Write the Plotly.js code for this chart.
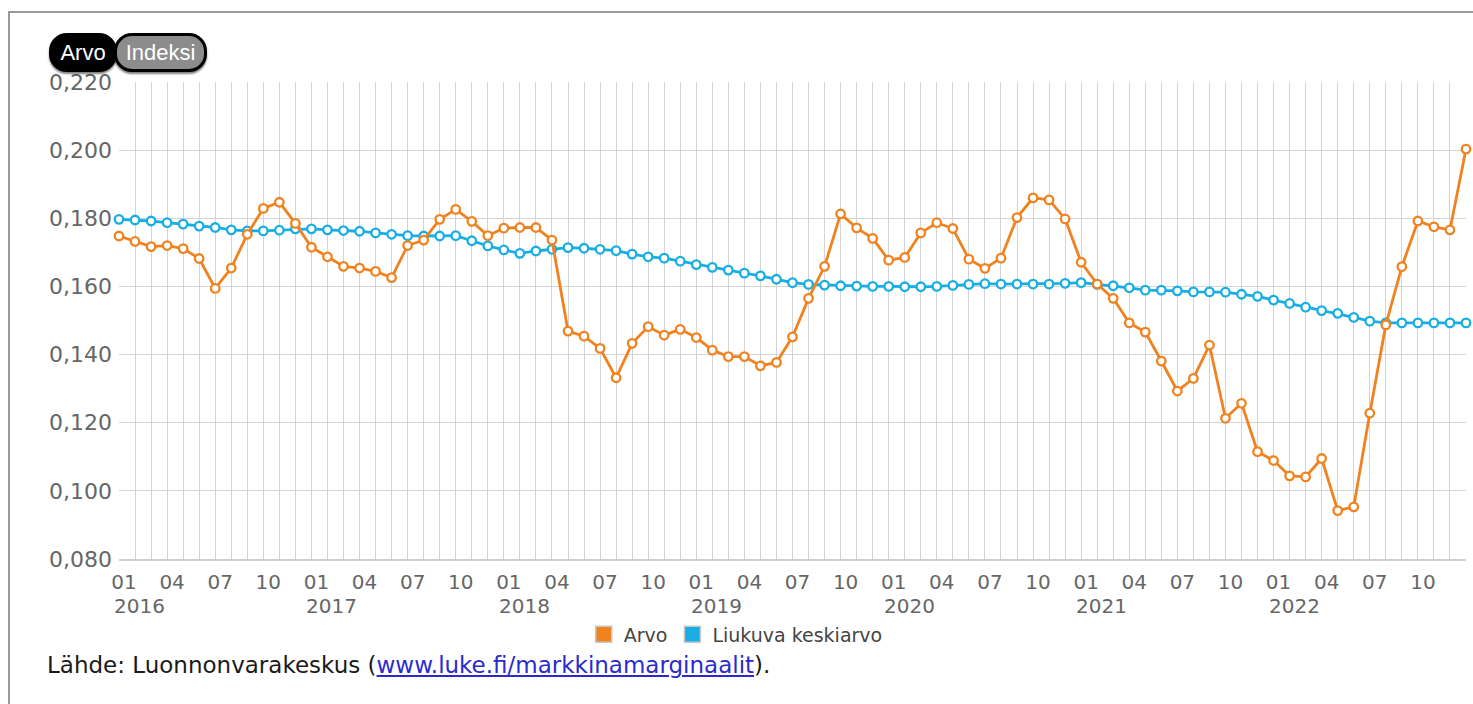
<!DOCTYPE html>
<html>
<head>
<meta charset="utf-8">
<script src="https://cdn.plot.ly/plotly-3.0.1.min.js"></script>
<style>
  html, body { margin:0; padding:0; background:#fff; width:1473px; height:704px; overflow:hidden; }
  #frame { position:absolute; left:8px; top:11px; width:1500px; height:760px; border-left:2px solid #9a9a9a; border-top:2px solid #9a9a9a; }
  #chart { position:absolute; left:0; top:0; width:1473px; height:704px; }
  .pill { position:absolute; top:33px; height:33px; border-radius:18px; border:3px solid #000; font-family:"Liberation Sans", Arial, sans-serif; font-size:22px; color:#fff; line-height:33px; text-align:center; box-shadow:0 2px 2px rgba(0,0,0,0.5); }
  #b1 { left:49px; width:62px; background:#000; }
  #b2 { left:114px; width:87px; background:#8c8c8c; }
  #source { position:absolute; left:47px; top:652px; font-family:"DejaVu Sans", Verdana, sans-serif; font-size:23px; color:#1a1a1a; }
  #source a { color:#2a2ad0; text-decoration:underline; }
</style>
</head>
<body>
<div id="frame"></div>
<div id="chart"></div>
<div class="pill" id="b1">Arvo</div>
<div class="pill" id="b2">Indeksi</div>
<div id="source">Lähde: Luonnonvarakeskus (<a href="http://www.luke.fi/markkinamarginaalit">www.luke.fi/markkinamarginaalit</a>).</div>
<script>
// ---- data ----
const years = [2016, 2017, 2018, 2019, 2020, 2021, 2022, 2023];
const arvo = [
  0.1748,0.1732,0.1717,0.1720,0.1711,0.1682,0.1594,0.1654,0.1753,0.1829,0.1847,0.1785,
  0.1715,0.1687,0.1659,0.1654,0.1644,0.1626,0.1720,0.1736,0.1797,0.1826,0.1791,0.1749,
  0.1771,0.1773,0.1773,0.1736,0.1469,0.1454,0.1418,0.1332,0.1433,0.1482,0.1457,0.1474,
  0.1450,0.1413,0.1394,0.1394,0.1367,0.1377,0.1452,0.1565,0.1659,0.1813,0.1772,0.1741,
  0.1677,0.1685,0.1757,0.1787,0.1770,0.1680,0.1653,0.1683,0.1802,0.1860,0.1854,0.1798,
  0.1671,0.1607,0.1565,0.1493,0.1466,0.1381,0.1293,0.1330,0.1428,0.1213,0.1257,0.1115,
  0.1089,0.1044,0.1041,0.1095,0.0942,0.0953,0.1228,0.1487,0.1658,0.1792,0.1775,0.1766,
  0.2003
];
const liukuva = [
  0.1797,0.1795,0.1792,0.1787,0.1783,0.1777,0.1773,0.1766,0.1763,0.1763,0.1765,0.1769,
  0.1769,0.1766,0.1764,0.1762,0.1757,0.1753,0.1749,0.1748,0.1748,0.1749,0.1734,0.1719,
  0.1707,0.1697,0.1704,0.1709,0.1714,0.1712,0.1709,0.1705,0.1695,0.1687,0.1683,0.1674,
  0.1664,0.1656,0.1648,0.1639,0.1631,0.1621,0.1611,0.1606,0.1604,0.1602,0.1601,0.1600,
  0.1600,0.1599,0.1599,0.1600,0.1603,0.1606,0.1608,0.1607,0.1607,0.1607,0.1607,0.1609,
  0.1611,0.1606,0.1602,0.1596,0.1589,0.1589,0.1587,0.1584,0.1584,0.1583,0.1577,0.1571,
  0.1560,0.1550,0.1539,0.1529,0.1521,0.1509,0.1498,0.1493,0.1493,0.1493,0.1493,0.1493,
  0.1493
];
const labeledMonths = ['01', '04', '07', '10'];
const seriesNames = ['Arvo', 'Liukuva keskiarvo'];
const seriesColors = ['#F0821F', '#18AEE3'];

// ---- categories ----
const months = [];
for (const y of years) {
  for (let m = 1; m <= 12; m++) {
    if (months.length < arvo.length) months.push(y + '-' + String(m).padStart(2, '0'));
  }
}
const tickText = months.map(c => { const mm = c.slice(5); return labeledMonths.includes(mm) && c !== months[months.length-1] ? mm : ''; });
const yearAnn = months.filter((c, i) => c.endsWith('-01') && i < months.length - 1).map(c => ({
  x: c, xref: 'x', y: 0, yref: 'paper', yanchor: 'top', xanchor: 'left',
  yshift: -33, xshift: -7, text: c.slice(0, 4), showarrow: false,
  font: { family: 'DejaVu Sans, Verdana, sans-serif', size: 20, color: '#666' }
}));

function lineTrace(y, i) {
  return {
    type: 'scatter', mode: 'lines+markers', x: months, y: y, name: seriesNames[i],
    showlegend: false, cliponaxis: false,
    line: { color: seriesColors[i], width: 2.8 },
    marker: { symbol: 'circle', size: 8.5, color: '#fff', line: { color: seriesColors[i], width: 2.3 } },
    hoverinfo: 'x+y'
  };
}
function legendTrace(i) {
  return { type: 'scatter', mode: 'markers', x: [null], y: [null], name: seriesNames[i], showlegend: true,
    marker: { symbol: 'square', size: 16, color: seriesColors[i], line: { color: '#c8c8c8', width: 1.5 } }, hoverinfo: 'skip' };
}

const data = [ lineTrace(liukuva, 1), lineTrace(arvo, 0), legendTrace(0), legendTrace(1) ];

const layout = {
  width: 1473, height: 704,
  paper_bgcolor: 'rgba(0,0,0,0)', plot_bgcolor: 'rgba(0,0,0,0)',
  margin: { l: 119, r: 7, t: 82, b: 145 },
  separators: ', ',
  font: { family: 'DejaVu Sans, Verdana, sans-serif', color: '#666' },
  xaxis: {
    type: 'category', range: [0, months.length - 1],
    tickmode: 'array', tickvals: months, ticktext: tickText,
    showgrid: true, gridcolor: '#d4d4d4', gridwidth: 1,
    showline: true, linecolor: '#cfcfcf', linewidth: 2,
    ticks: '', ticklabelshift: 5, ticklabelstandoff: 4,
    tickfont: { family: 'DejaVu Sans, Verdana, sans-serif', size: 20, color: '#666' },
    zeroline: false, fixedrange: true
  },
  yaxis: {
    range: [0.08, 0.22], dtick: 0.02, tick0: 0.08, tickformat: '.3f',
    showgrid: true, gridcolor: '#d4d4d4', gridwidth: 1,
    showline: false, zeroline: false, ticks: '', ticklabelstandoff: 6,
    tickfont: { family: 'DejaVu Sans, Verdana, sans-serif', size: 22, color: '#666' },
    fixedrange: true
  },
  showlegend: true,
  legend: {
    orientation: 'h', x: 0.345, xanchor: 'left', y: -0.118, yanchor: 'top',
    font: { family: 'DejaVu Sans, Verdana, sans-serif', size: 19, color: '#444' },
    itemwidth: 30, itemsizing: 'trace', bgcolor: 'rgba(0,0,0,0)', traceorder: 'normal'
  },
  annotations: yearAnn
};

Plotly.newPlot('chart', data, layout, { displayModeBar: false });
</script>
</body>
</html>
